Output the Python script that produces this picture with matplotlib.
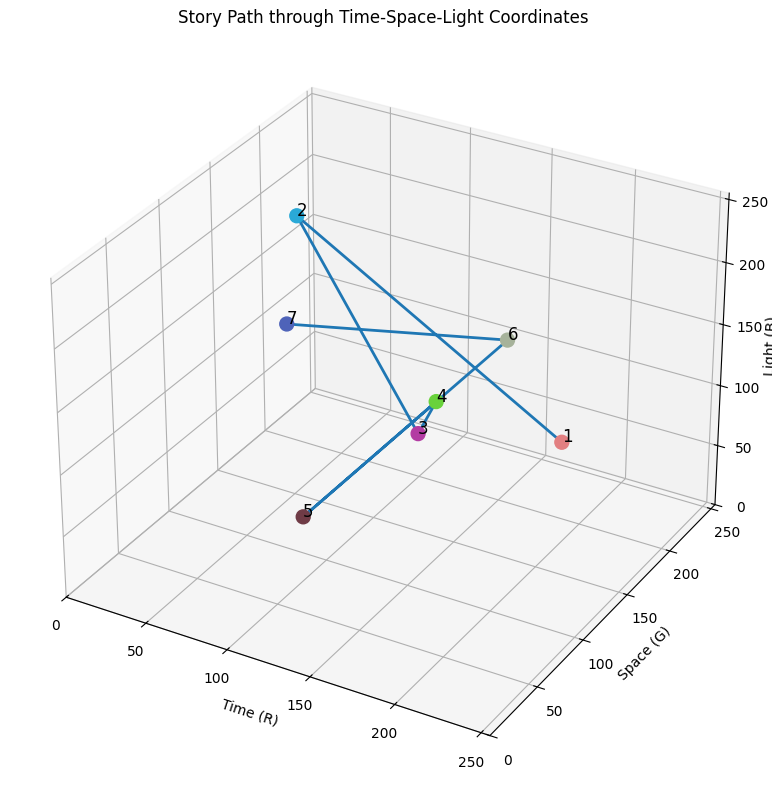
import numpy as np
import matplotlib
matplotlib.use('Agg')
from matplotlib import pyplot as plt

# story points: time (R), space (G), light (B)
time_r = [226, 42, 179, 105, 111, 166, 78]
space_g = [127, 169, 60, 210, 59, 178, 99]
light_b = [129, 215, 163, 59, 70, 154, 185]
labels = ['1', '2', '3', '4', '5', '6', '7']

colors = np.array([time_r, space_g, light_b]).T / 255.0

fig = plt.figure(figsize=(7.72, 7.90), dpi=100)
ax = fig.add_axes([0.012, 0.007, 0.977, 0.958], projection='3d')

ax.plot(time_r, space_g, light_b, color='tab:blue', linewidth=2)
for i in range(len(labels)):
    ax.text(time_r[i], space_g[i], light_b[i], labels[i], fontsize=12)
ax.scatter(time_r, space_g, light_b, c=colors, s=100, depthshade=False, alpha=1)

ax.set_xlim(0, 255)
ax.set_ylim(0, 255)
ax.set_zlim(0, 255)
ax.set_xlabel('Time (R)')
ax.set_ylabel('Space (G)')
ax.set_zlabel('Light (B)', labelpad=1)
fig.text(0.497, 1 - 18 / 790, 'Story Path through Time-Space-Light Coordinates',
         ha='center', va='center', fontsize=12)

plt.savefig('out.png')
